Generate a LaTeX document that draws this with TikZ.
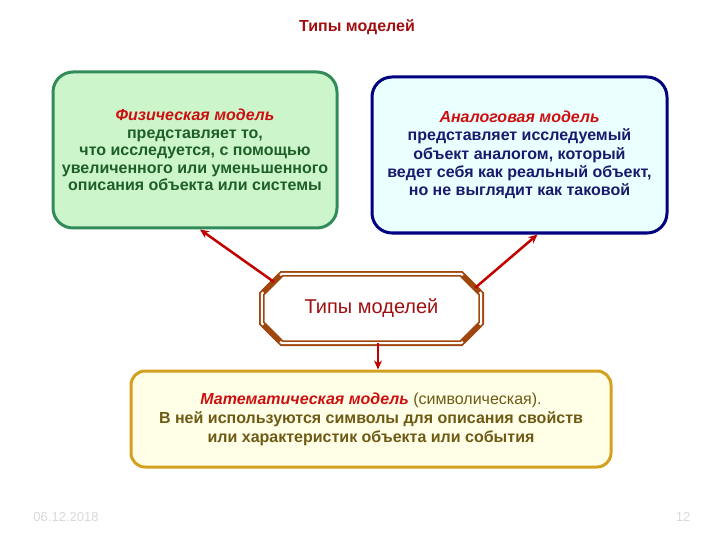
\documentclass[tikz,border=0pt]{standalone}
\usepackage{fontspec}
\setmainfont{Liberation Sans}
\usepackage{xcolor}
\usetikzlibrary{arrows.meta, calc}

% === Colours ===
\definecolor{physfill}{RGB}{204,245,204}
\definecolor{physline}{RGB}{50,140,90}
\definecolor{phystext}{RGB}{30,95,40}
\definecolor{anafill}{RGB}{234,255,255}
\definecolor{analine}{RGB}{0,0,128}
\definecolor{anatext}{RGB}{25,25,110}
\definecolor{mathfill}{RGB}{255,255,232}
\definecolor{mathline}{RGB}{212,160,32}
\definecolor{mathtext}{RGB}{110,90,20}
\definecolor{octline}{RGB}{160,70,15}
\definecolor{headred}{RGB}{205,15,15}
\definecolor{darkred}{RGB}{160,15,15}
\definecolor{arrred}{RGB}{195,0,0}

\begin{document}
\begin{tikzpicture}[x=1pt, y=-1pt, >={Stealth[length=9pt,width=8pt]},
  modelbox/.style={draw, rounded corners=20pt, line width=3pt, align=center,
    font=\bfseries\fontsize{16}{18}\selectfont, inner sep=0pt},
  octframe/.style={draw=octline, double=white, line width=1.8pt, double distance=2pt},
  link/.style={->, arrred, line width=2.5pt},
  heading/.style={text=headred, font=\bfseries\itshape}]

% === Parameters ===
\pgfmathsetmacro{\chamfer}{20}   % Octagon corner cut

% === Drawing region ===
\useasboundingbox (0,0) rectangle (720,540);

% === Title ===
\node[text=darkred, font=\bfseries\fontsize{16}{18}\selectfont] (title) at (357,27) {Типы моделей};

% === Model boxes ===
\node[modelbox, draw=physline, fill=physfill, text=phystext,
  font=\bfseries\fontsize{16}{17.5}\selectfont,
  minimum width=284pt, minimum height=156pt] (phys) at (195,150)
  {\textcolor{headred}{\itshape Физическая модель}\\
   представляет то,\\
   что исследуется, с помощью\\
   увеличенного или уменьшенного\\
   описания объекта или системы};

\node[modelbox, draw=analine, fill=anafill, text=anatext,
  font=\bfseries\fontsize{16}{18.25}\selectfont,
  minimum width=295pt, minimum height=156pt] (analog) at (519.5,155)
  {\textcolor{headred}{\itshape Аналоговая модель}\\
   представляет исследуемый\\
   объект аналогом, который\\
   ведет себя как реальный объект,\\
   но не выглядит как таковой};

\node[modelbox, rounded corners=14pt, draw=mathline, fill=mathfill, text=mathtext,
  font=\bfseries\fontsize{16}{19}\selectfont,
  minimum width=480pt, minimum height=96pt] (math) at (371,419)
  {\textcolor{headred}{\itshape Математическая модель} {\mdseries(символическая).}\\
   В ней используются символы для описания свойств\\
   или характеристик объекта или события};

% === Central node ===
\node[minimum width=219pt, minimum height=69pt, inner sep=0pt,
  text=darkred, font=\fontsize{20}{22}\selectfont] (types) at (371.5,308.5) {Типы моделей};

% Octagon corners
\coordinate (o1) at ($(types.north west)+(\chamfer,0)$);
\coordinate (o2) at ($(types.north east)+(-\chamfer,0)$);
\coordinate (o3) at ($(types.north east)+(0,\chamfer)$);
\coordinate (o4) at ($(types.south east)+(0,-\chamfer)$);
\coordinate (o5) at ($(types.south east)+(-\chamfer,0)$);
\coordinate (o6) at ($(types.south west)+(\chamfer,0)$);
\coordinate (o7) at ($(types.south west)+(0,-\chamfer)$);
\coordinate (o8) at ($(types.north west)+(0,\chamfer)$);

% Double frame, heavier on the cut corners
\draw[octframe] (o1) -- (o2) -- (o3) -- (o4) -- (o5) -- (o6) -- (o7) -- (o8) -- cycle;
\foreach \a/\b in {o2/o3, o4/o5, o6/o7, o8/o1}
  \draw[octline, line width=5.6pt, shorten <=2.4pt, shorten >=2.4pt] (\a) -- (\b);

% === Links ===
\draw[link] ($(o8)!0.6!(o1)$) -- ([xshift=5pt]phys.south);
\draw[link] ($(o2)!0.7!(o3)$) -- ([xshift=18pt]analog.south);
\draw[link] ([xshift=6.5pt]types.south) -- ([xshift=6.5pt]types.south |- math.north);

% === Footer ===
\node[text=gray!30, font=\fontsize{13}{15}\selectfont] (date) at (66,517) {06.12.2018};
\node[text=gray!30, font=\fontsize{13}{15}\selectfont] (page) at (683,517) {12};

\end{tikzpicture}
\end{document}
